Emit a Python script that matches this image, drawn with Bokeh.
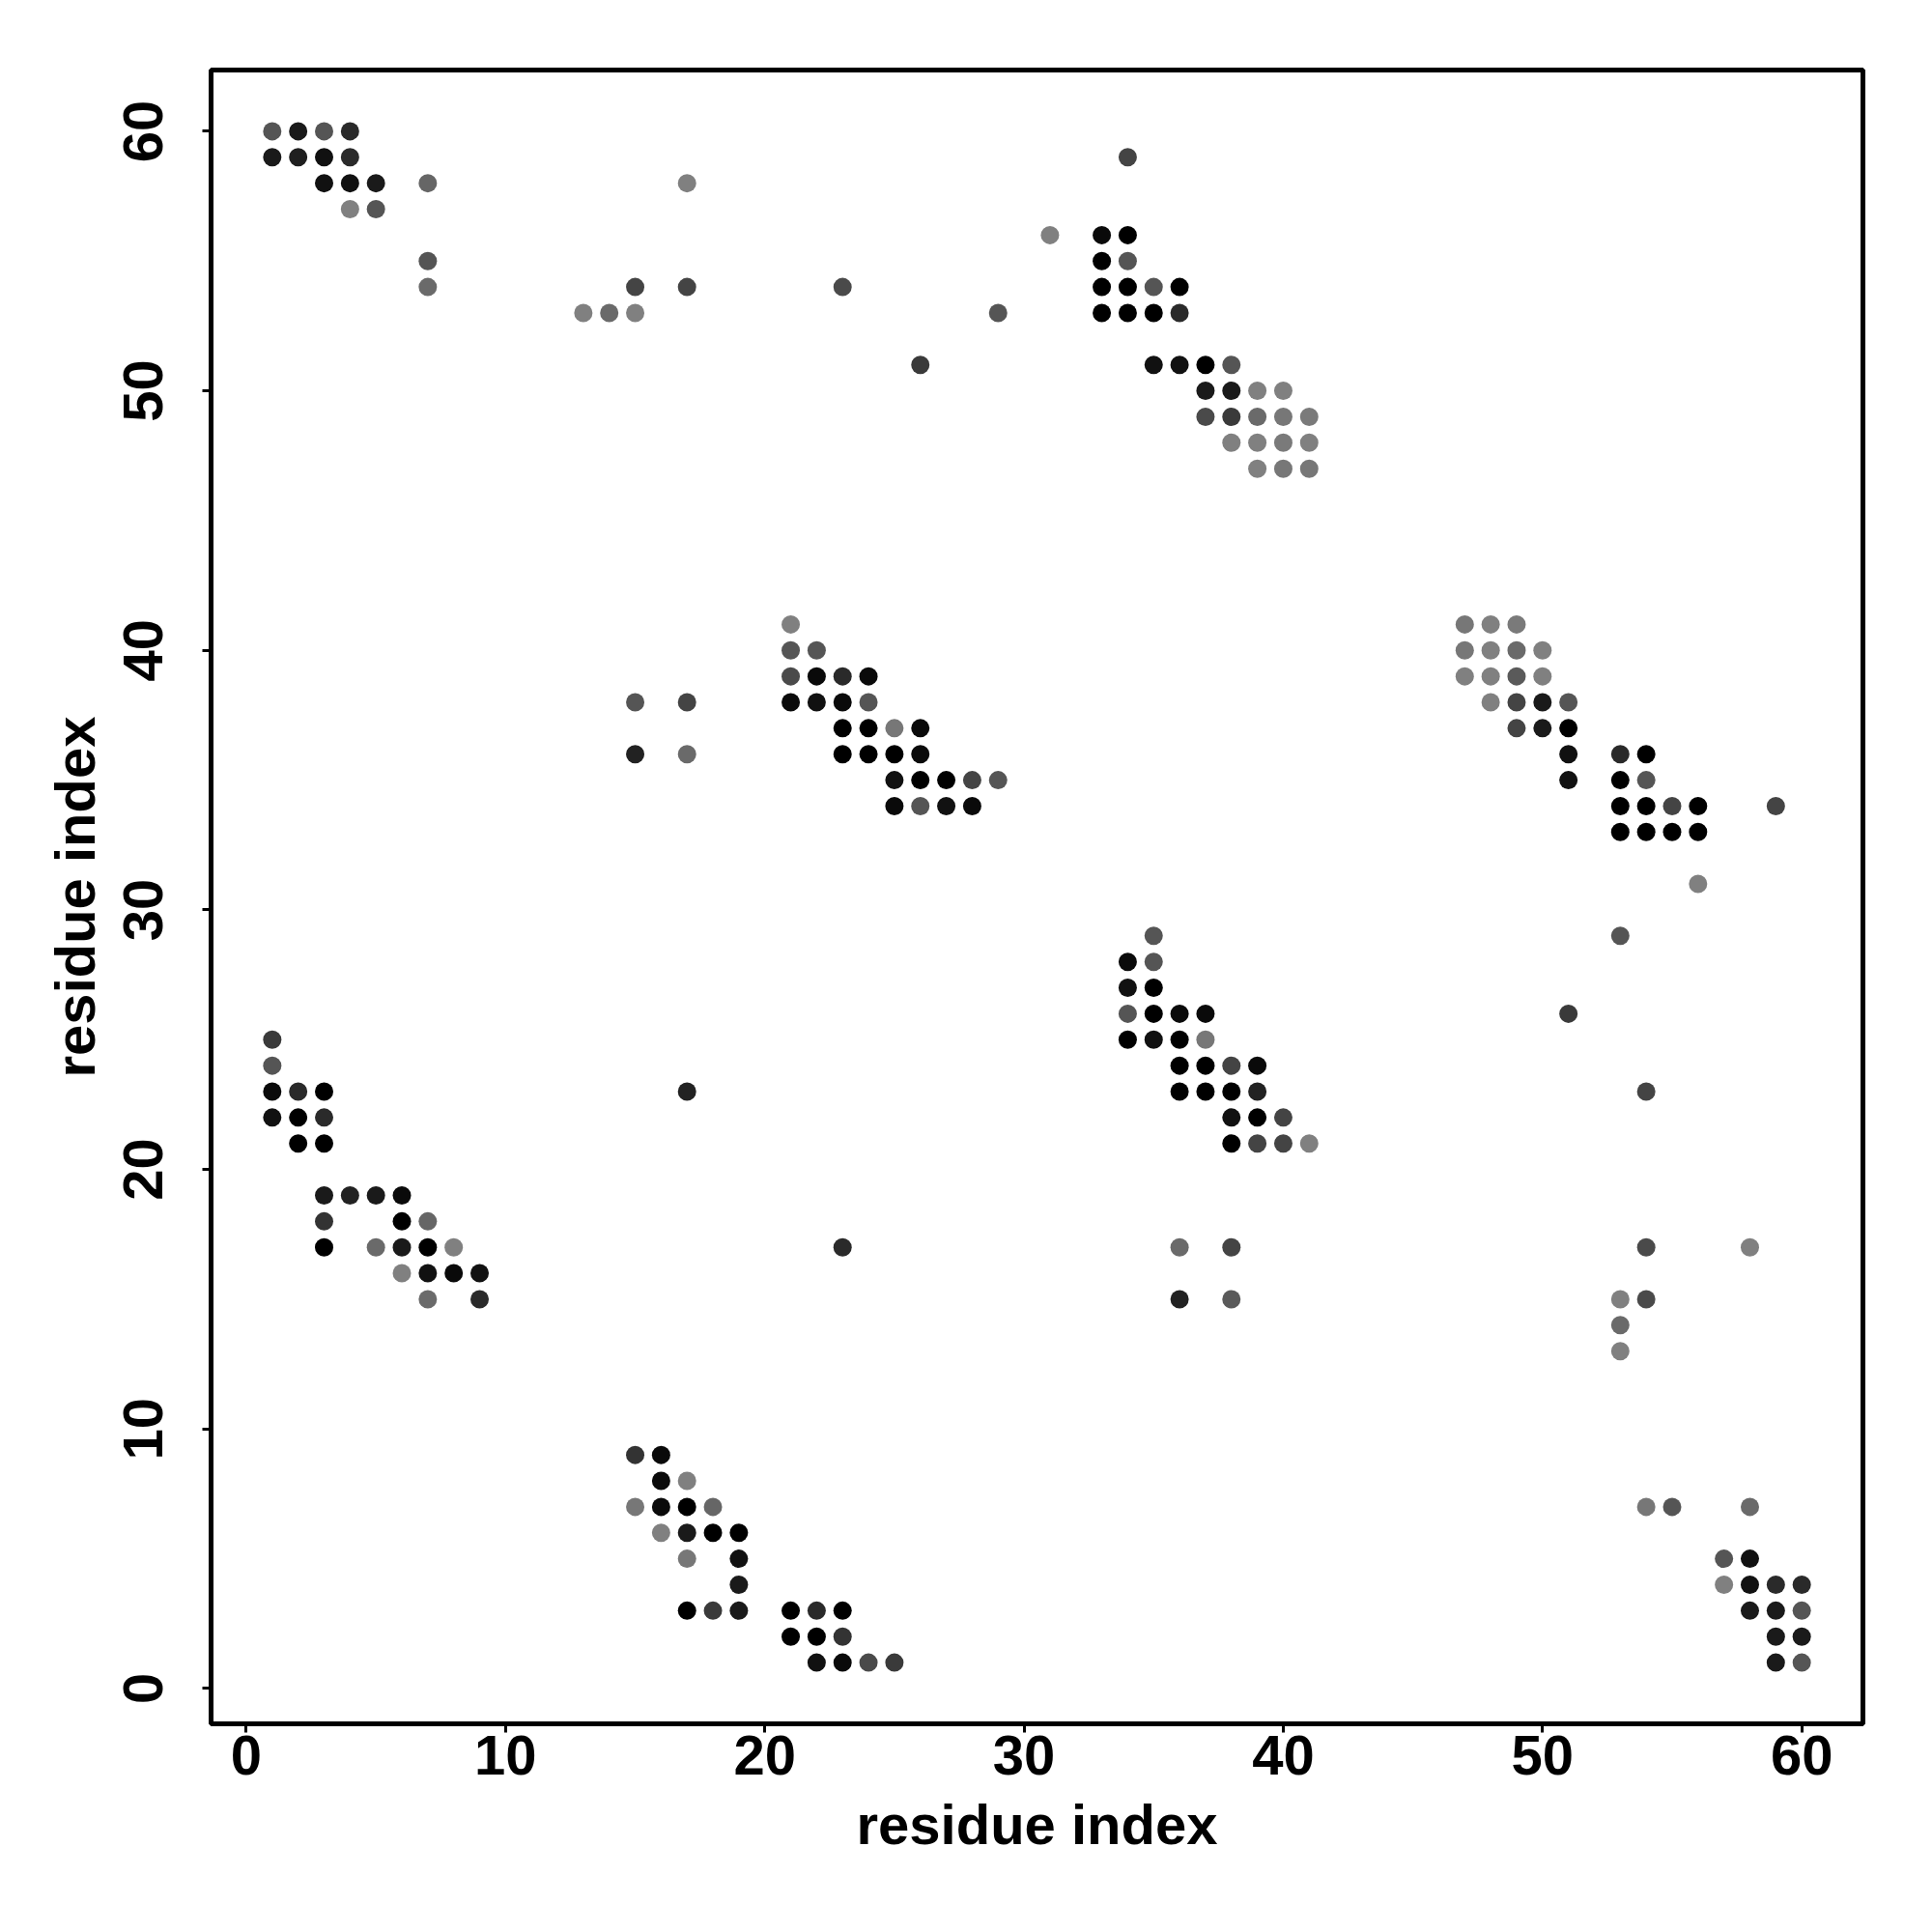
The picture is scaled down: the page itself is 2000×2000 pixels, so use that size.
from bokeh.plotting import figure
from bokeh.models import ColumnDataSource, FixedTicker, Range1d
from bokeh.embed import file_html
from bokeh.resources import INLINE

# contact map: residue index pairs (x, y) and grey level of each dot (0 = black, 128 = mid grey)
contact_x = [
    1, 2, 3, 4,
    1, 2, 3, 4, 34,
    3, 4, 5, 7, 17,
    4, 5,
    31, 33, 34,
    7, 33, 34,
    7, 15, 17, 23, 33, 34, 35, 36,
    13, 14, 15, 29, 33, 34, 35, 36,
    26, 35, 36, 37, 38,
    37, 38, 39, 40,
    37, 38, 39, 40, 41,
    38, 39, 40, 41,
    39, 40, 41,
    21, 47, 48, 49,
    21, 22, 47, 48, 49, 50,
    21, 22, 23, 24, 47, 48, 49, 50,
    15, 17, 21, 22, 23, 24, 48, 49, 50, 51,
    23, 24, 25, 26, 49, 50, 51,
    15, 17, 23, 24, 25, 26, 51, 53, 54,
    25, 26, 27, 28, 29, 51, 53, 54,
    25, 26, 27, 28, 53, 54, 55, 56, 59,
    53, 54, 55, 56,
    56,
    35, 53,
    34, 35,
    34, 35,
    34, 35, 36, 37, 51,
    1, 34, 35, 36, 37,
    1, 36, 37, 38, 39,
    1, 2, 3, 17, 36, 37, 38, 39, 54,
    1, 2, 3, 38, 39, 40,
    2, 3, 38, 39, 40, 41,
    3, 4, 5, 6,
    3, 6, 7,
    3, 5, 6, 7, 8, 23, 36, 38, 54, 58,
    6, 7, 8, 9,
    7, 9, 36, 38, 53, 54,
    53,
    53,
    15, 16,
    16, 17,
    15, 16, 17, 18, 54, 55, 58,
    16, 17, 18, 19,
    17, 19, 57, 58,
    19, 57, 58, 59, 60,
    17, 18, 19, 21, 22, 23, 58, 59, 60,
    21, 22, 23, 59, 60,
    22, 23, 24, 25, 59, 60,
]

contact_y = [
    60, 60, 60, 60,
    59, 59, 59, 59, 59,
    58, 58, 58, 58, 58,
    57, 57,
    56, 56, 56,
    55, 55, 55,
    54, 54, 54, 54, 54, 54, 54, 54,
    53, 53, 53, 53, 53, 53, 53, 53,
    51, 51, 51, 51, 51,
    50, 50, 50, 50,
    49, 49, 49, 49, 49,
    48, 48, 48, 48,
    47, 47, 47,
    41, 41, 41, 41,
    40, 40, 40, 40, 40, 40,
    39, 39, 39, 39, 39, 39, 39, 39,
    38, 38, 38, 38, 38, 38, 38, 38, 38, 38,
    37, 37, 37, 37, 37, 37, 37,
    36, 36, 36, 36, 36, 36, 36, 36, 36,
    35, 35, 35, 35, 35, 35, 35, 35,
    34, 34, 34, 34, 34, 34, 34, 34, 34,
    33, 33, 33, 33,
    31,
    29, 29,
    28, 28,
    27, 27,
    26, 26, 26, 26, 26,
    25, 25, 25, 25, 25,
    24, 24, 24, 24, 24,
    23, 23, 23, 23, 23, 23, 23, 23, 23,
    22, 22, 22, 22, 22, 22,
    21, 21, 21, 21, 21, 21,
    19, 19, 19, 19,
    18, 18, 18,
    17, 17, 17, 17, 17, 17, 17, 17, 17, 17,
    16, 16, 16, 16,
    15, 15, 15, 15, 15, 15,
    14,
    13,
    9, 9,
    8, 8,
    7, 7, 7, 7, 7, 7, 7,
    6, 6, 6, 6,
    5, 5, 5, 5,
    4, 4, 4, 4, 4,
    3, 3, 3, 3, 3, 3, 3, 3, 3,
    2, 2, 2, 2, 2,
    1, 1, 1, 1, 1, 1,
]

contact_gray = [
    0x55, 0x1a, 0x55, 0x2a,
    0x1a, 0x1f, 0x11, 0x2a, 0x44,
    0x11, 0x11, 0x1a, 0x66, 0x80,
    0x80, 0x55,
    0x80, 0x0a, 0x00,
    0x55, 0x00, 0x55,
    0x6a, 0x44, 0x44, 0x4a, 0x00, 0x00, 0x55, 0x00,
    0x80, 0x6a, 0x80, 0x55, 0x00, 0x00, 0x00, 0x2a,
    0x3a, 0x11, 0x11, 0x00, 0x55,
    0x1a, 0x1a, 0x80, 0x80,
    0x4a, 0x3a, 0x6a, 0x77, 0x7a,
    0x80, 0x80, 0x7a, 0x80,
    0x80, 0x77, 0x77,
    0x80, 0x77, 0x80, 0x7a,
    0x55, 0x55, 0x77, 0x80, 0x6a, 0x80,
    0x4a, 0x0a, 0x2a, 0x0a, 0x80, 0x80, 0x5a, 0x80,
    0x55, 0x44, 0x0a, 0x11, 0x0a, 0x55, 0x80, 0x44, 0x1a, 0x55,
    0x00, 0x00, 0x77, 0x0a, 0x44, 0x1a, 0x00,
    0x22, 0x6a, 0x00, 0x00, 0x00, 0x0a, 0x11, 0x2a, 0x00,
    0x11, 0x00, 0x00, 0x44, 0x55, 0x11, 0x00, 0x55,
    0x0a, 0x55, 0x11, 0x0a, 0x00, 0x00, 0x44, 0x00, 0x44,
    0x00, 0x00, 0x00, 0x00,
    0x80,
    0x55, 0x55,
    0x0a, 0x55,
    0x11, 0x00,
    0x55, 0x00, 0x0a, 0x0a, 0x3a,
    0x3a, 0x00, 0x11, 0x00, 0x77,
    0x55, 0x00, 0x00, 0x44, 0x0a,
    0x0a, 0x2a, 0x00, 0x22, 0x00, 0x00, 0x00, 0x22, 0x44,
    0x11, 0x00, 0x2a, 0x11, 0x00, 0x44,
    0x00, 0x00, 0x00, 0x44, 0x44, 0x80,
    0x1a, 0x22, 0x1a, 0x0a,
    0x33, 0x00, 0x66,
    0x00, 0x6a, 0x1a, 0x00, 0x80, 0x2a, 0x6a, 0x44, 0x4a, 0x80,
    0x80, 0x11, 0x0a, 0x11,
    0x6a, 0x2a, 0x22, 0x5a, 0x80, 0x4a,
    0x6a,
    0x80,
    0x33, 0x0a,
    0x0a, 0x80,
    0x77, 0x0a, 0x00, 0x66, 0x77, 0x55, 0x6a,
    0x80, 0x1a, 0x00, 0x00,
    0x77, 0x11, 0x55, 0x11,
    0x1a, 0x80, 0x11, 0x2a, 0x2a,
    0x00, 0x3a, 0x1a, 0x00, 0x2a, 0x00, 0x1a, 0x1a, 0x55,
    0x00, 0x00, 0x33, 0x1a, 0x1a,
    0x11, 0x0a, 0x4a, 0x3a, 0x1a, 0x55,
]

tick_values = [0, 10, 20, 30, 40, 50, 60]
axis_title = "residue index"

colors = ["#%02x%02x%02x" % (g, g, g) for g in contact_gray]
source = ColumnDataSource(data=dict(x=contact_x, y=contact_y, c=colors))

lo = min(contact_x) - 0.04 * (max(contact_x) - min(contact_x))
hi = max(contact_x) + 0.04 * (max(contact_x) - min(contact_x))

p = figure(
    frame_width=1710, frame_height=1712,
    x_range=Range1d(lo, hi), y_range=Range1d(lo, hi),
    output_backend="svg", toolbar_location=None,
    min_border_left=218, min_border_top=72, min_border_right=55, min_border_bottom=150,
    background_fill_color="white", border_fill_color="white",
)

p.scatter("x", "y", source=source, size=19, fill_color="c", line_color=None)

p.outline_line_color = "black"
p.outline_line_width = 5
p.grid.visible = False

FONT = "Liberation Sans"
for ax in (p.xaxis[0], p.yaxis[0]):
    ax.ticker = FixedTicker(ticks=tick_values)
    ax.minor_tick_line_color = None
    ax.axis_line_color = None
    ax.major_tick_line_color = "black"
    ax.major_tick_line_width = 3
    ax.major_tick_in = 0
    ax.major_tick_out = 9
    ax.major_label_text_font = FONT
    ax.major_label_text_font_style = "bold"
    ax.major_label_text_font_size = "58px"
    ax.major_label_text_color = "black"
    ax.axis_label = axis_title
    ax.axis_label_text_font = FONT
    ax.axis_label_text_font_style = "bold"
    ax.axis_label_text_font_size = "58px"
    ax.axis_label_text_color = "black"

p.xaxis.major_label_standoff = 3
p.xaxis.axis_label_standoff = 16
p.yaxis.major_label_orientation = "vertical"
p.yaxis.major_label_standoff = 41
p.yaxis.axis_label_standoff = 16

open("out.html", "w").write(file_html(p, INLINE))
